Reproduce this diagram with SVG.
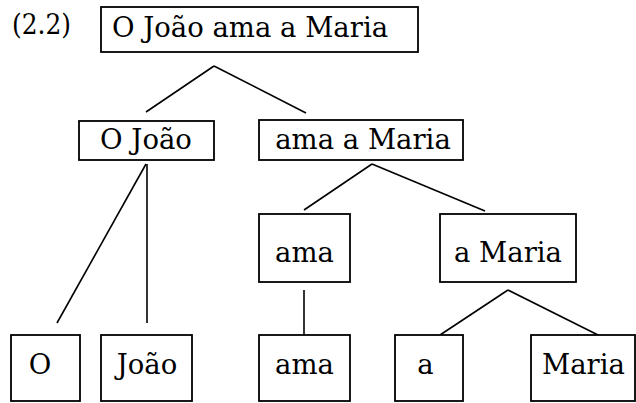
<svg xmlns="http://www.w3.org/2000/svg" width="636" height="403" viewBox="0 0 636 403">
<style>
.box{fill:#fff;stroke:#000;stroke-width:1.8}
.t{font-family:"DejaVu Serif","Liberation Serif",serif;font-size:27.5px;fill:#000;text-anchor:middle}
.edges line{stroke:#000;stroke-width:1.6}
</style>
<rect width="636" height="403" fill="#fff"/>
<text class="t" x="12" y="34" style="text-anchor:start" textLength="59" lengthAdjust="spacingAndGlyphs">(2.2)</text>
<g class="edges">
<line x1="214" y1="66" x2="146" y2="112"/>
<line x1="214" y1="66" x2="306" y2="113"/>
<line x1="146" y1="164" x2="57" y2="323"/>
<line x1="147" y1="164" x2="147" y2="323"/>
<line x1="372" y1="164" x2="304" y2="210"/>
<line x1="372" y1="164" x2="485" y2="211"/>
<line x1="304" y1="290" x2="304" y2="335"/>
<line x1="508" y1="290" x2="440" y2="335"/>
<line x1="508" y1="290" x2="598" y2="335"/>
</g>
<g id="root"><rect class="box" x="101" y="7" width="317" height="45"/><text class="t" x="250" y="37">O João ama a Maria</text></g>
<g id="oJoao"><rect class="box" x="79" y="121" width="135" height="39"/><text class="t" x="146" y="149">O João</text></g>
<g id="amaAMaria"><rect class="box" x="259" y="120" width="204" height="40"/><text class="t" x="363" y="149">ama a Maria</text></g>
<g id="ama1"><rect class="box" x="259" y="214" width="91" height="68"/><text class="t" x="304.5" y="262">ama</text></g>
<g id="aMaria"><rect class="box" x="440" y="214" width="136" height="68"/><text class="t" x="508" y="262">a Maria</text></g>
<g id="o"><rect class="box" x="11" y="335" width="69" height="66"/><text class="t" x="40" y="374">O</text></g>
<g id="joao"><rect class="box" x="101" y="335" width="91" height="66"/><text class="t" x="147" y="374">João</text></g>
<g id="ama2"><rect class="box" x="259" y="335" width="91" height="66"/><text class="t" x="304.5" y="374">ama</text></g>
<g id="a"><rect class="box" x="395" y="335" width="68" height="66"/><text class="t" x="425.5" y="374">a</text></g>
<g id="maria"><rect class="box" x="531" y="335" width="104" height="66"/><text class="t" x="583.5" y="374">Maria</text></g>
</svg>
